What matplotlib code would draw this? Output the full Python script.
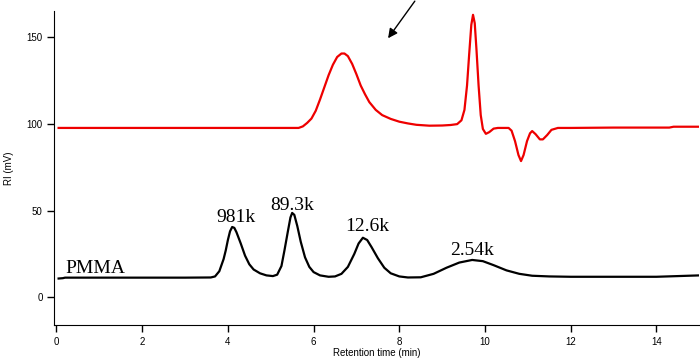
import matplotlib.pyplot as plt

# GPC traces: (retention time in min, RI in mV)
pmma_t = [0.05, 0.15, 0.2, 0.5, 1, 2, 3, 3.6, 3.7, 3.8, 3.9, 3.95, 4.0, 4.05, 4.1, 4.15, 4.2, 4.3, 4.4,
          4.5, 4.6, 4.75, 4.9, 5.05, 5.15, 5.25, 5.32, 5.4, 5.46, 5.5, 5.55, 5.62, 5.7, 5.8, 5.9,
          6.0, 6.15, 6.35, 6.5, 6.65, 6.8, 6.95, 7.05, 7.15, 7.25, 7.35, 7.5, 7.65, 7.8, 8.0, 8.2,
          8.5, 8.8, 9.1, 9.4, 9.7, 9.95, 10.2, 10.5, 10.8, 11.1, 11.5, 12, 13, 14, 14.5, 15]
pmma_y = [10.8, 11.0, 11.3, 11.3, 11.3, 11.3, 11.3, 11.4, 12, 15, 22, 27, 33, 38, 40.5, 40, 37.5, 31, 24,
          19, 16, 13.8, 12.6, 12.2, 13, 18, 27, 38, 46, 48.6, 47.5, 41, 32, 23, 17.5,
          14.5, 12.6, 11.8, 12.0, 13.5, 17.5, 25, 31, 34.3, 33, 29, 22.5, 17, 13.8, 12, 11.4,
          11.5, 13.5, 17, 20, 21.5, 20.8, 18.5, 15.5, 13.5, 12.4, 12, 11.8, 11.8, 11.8, 12.2, 12.6]

red_t = [0.05, 1, 3, 5.65, 5.75, 5.85, 5.95, 6.05, 6.15, 6.25, 6.35, 6.45, 6.55, 6.65, 6.72, 6.8, 6.9,
         7.0, 7.1, 7.2, 7.3, 7.45, 7.6, 7.8, 8.0, 8.2, 8.4, 8.7, 9.0, 9.2, 9.35, 9.45, 9.52, 9.58,
         9.63, 9.68, 9.72, 9.76, 9.8, 9.85, 9.9, 9.95, 10.02, 10.1, 10.2, 10.3, 10.55, 10.62, 10.7,
         10.78, 10.84, 10.9, 10.98, 11.05, 11.1, 11.18, 11.28, 11.35, 11.45, 11.55, 11.7, 12, 13,
         14.3, 14.4, 15]
red_y = [97.6, 97.6, 97.6, 97.6, 98.5, 100.5, 103, 107.5, 114, 121, 128, 134, 138.5, 140.5, 140.5, 139, 134.5,
         128.5, 122, 117, 112.5, 108, 105, 102.8, 101.2, 100.2, 99.4, 98.9, 99.0, 99.3, 99.8, 102, 108, 122,
         140, 157, 162.8, 158, 143, 122, 105, 97, 94.2, 95.2, 97.2, 97.6, 97.6, 96, 90,
         82, 78.5, 82, 90, 94.5, 95.8, 94, 91, 91, 93.5, 96.5, 97.6, 97.6, 97.8,
         97.8, 98.3, 98.3]

peak_labels = ['981k', '89.3k', '12.6k', '2.54k']
peak_label_t = [4.2, 5.5, 7.25, 9.7]
peak_label_y = [46, 53, 41, 27]

fig = plt.figure(figsize=(7, 3.61), dpi=100)
ax = fig.add_axes([0.0776, 0.0997, 0.9214, 0.8698])

ax.plot(red_t, red_y, color='#ee0000', lw=1.6)
ax.plot(pmma_t, pmma_y, color='black', lw=1.6)

serif = 'Liberation Serif'
for lab, t, y in zip(peak_labels, peak_label_t, peak_label_y):
    ax.text(t, y, lab, fontsize=14, family=serif, ha='center', va='center')
ax.text(0.2, 16.5, 'PMMA', fontsize=14, family=serif, ha='left', va='center')

# arrow coming in from the top edge
ax.annotate('', xy=(7.7, 148), xytext=(8.4, 172), annotation_clip=False,
            arrowprops=dict(arrowstyle='-|>', color='black', lw=1, mutation_scale=14))

ax.set_xlim(-0.05, 15.0)
ax.set_ylim(-16, 165)
ax.set_xticks(range(0, 15, 2))
ax.set_yticks([0, 50, 100, 150])
ax.spines['top'].set_visible(False)
ax.spines['right'].set_visible(False)
ax.tick_params(direction='out', length=5, width=1, labelsize=7)
for lab in ax.get_xticklabels() + ax.get_yticklabels():
    lab.set_family('Liberation Sans')
ax.set_xlabel('Retention time (min)', fontsize=7, family='Liberation Sans', labelpad=1)
ax.set_ylabel('RI (mV)', fontsize=7, family='Liberation Sans', va='center')
ax.yaxis.set_label_coords(-0.071, 0.5)

fig.savefig('out.png', dpi=100)
